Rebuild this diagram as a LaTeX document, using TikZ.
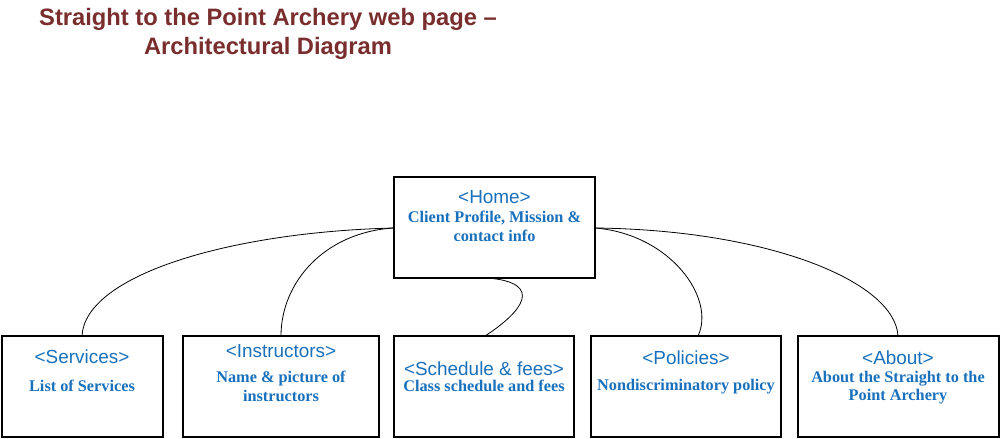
\documentclass[tikz,border=0pt]{standalone}
\usepackage{fontspec}
\setmainfont{Liberation Serif}
\setsansfont{Liberation Sans}
\definecolor{titlered}{RGB}{122,45,45}
\definecolor{txtblue}{RGB}{25,112,188}
\begin{document}
\begin{tikzpicture}[x=0.75pt,y=-0.75pt,
  box/.style={draw=black,line width=1.5pt,inner sep=0pt},
  link/.style={draw=black,line width=0.6pt},
  ttl/.style={anchor=base,text=titlered,font=\sffamily\bfseries\fontsize{17.8}{20}\selectfont,inner sep=0pt},
  head/.style={anchor=base,text=txtblue,font=\sffamily\fontsize{14.2}{16}\selectfont,inner sep=0pt},
  sub/.style={anchor=base,text=txtblue,font=\rmfamily\bfseries\fontsize{12.2}{14}\selectfont,inner sep=0pt}]
\useasboundingbox[fill=white] (0,0) rectangle (1000,439);
% title
\node[ttl] (t1) at (268,26) {Straight to the Point Archery web page –};
\node[ttl] (t2) at (268,54) {Architectural Diagram};
% boxes
\draw[box] (394,177) rectangle (595,278);
\coordinate (homeL) at (394,228);
\coordinate (homeR) at (595,228);
\coordinate (homeB) at (488,278);
\draw[box] (2,336) rectangle (163,437);
\draw[box] (183,336) rectangle (379,437);
\draw[box] (394,336) rectangle (574,437);
\draw[box] (591,336) rectangle (781,437);
\draw[box] (798,336) rectangle (999,437);
\coordinate (servT) at (82,336);
\coordinate (instT) at (281,336);
\coordinate (schedT) at (485,336);
\coordinate (polT) at (698,336);
\coordinate (aboutT) at (898,336);
% texts
\node[head] (h0) at (494.5,203) {<Home>};
\node[sub] (s0a) at (494.5,222) {Client Profile, Mission \&};
\node[sub] (s0b) at (494.5,241) {contact info};
\node[head] (h1) at (82,363) {<Services>};
\node[sub] (s1) at (82,391) {List of Services};
\node[head] (h2) at (281,357) {<Instructors>};
\node[sub] (s2a) at (281,382) {Name \& picture of};
\node[sub] (s2b) at (281,401) {instructors};
\node[head] (h3) at (484,375) {<Schedule \& fees>};
\node[sub] (s3) at (484,391) {Class schedule and fees};
\node[head] (h4) at (686,364) {<Policies>};
\node[sub] (s4) at (686,390) {Nondiscriminatory policy};
\node[head] (h5) at (898,364) {<About>};
\node[sub] (s5a) at (898,382) {About the Straight to the};
\node[sub] (s5b) at (898,400) {Point Archery};
% connectors
\draw[link] (homeL) .. controls (230,232) and (85,275) .. (servT);
\draw[link] (homeL) .. controls (325,232) and (281,282) .. (instT);
\draw[link] (homeB) .. controls (545,283) and (522,312) .. (schedT);
\draw[link] (homeR) .. controls (670,234) and (716,298) .. (polT);
\draw[link] (homeR) .. controls (770,230) and (895,282) .. (aboutT);
\end{tikzpicture}
\end{document}
